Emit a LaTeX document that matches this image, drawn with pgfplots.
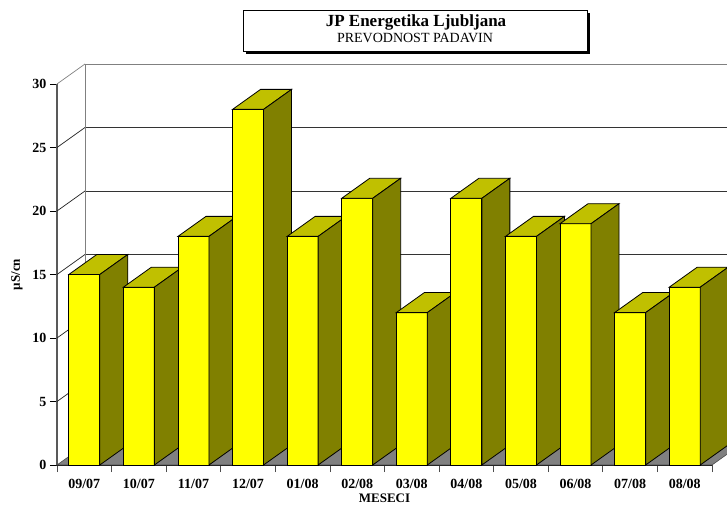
\documentclass[border=0pt]{standalone}
\usepackage{fontspec}
\setmainfont{Liberation Serif}
\usepackage{pgfplots}
\pgfplotsset{compat=1.18}

\definecolor{barfront}{HTML}{FFFF00}
\definecolor{bartop}{HTML}{C0C000}
\definecolor{barside}{HTML}{808000}
\definecolor{floorgray}{HTML}{808080}

% empty mark, the prism is drawn by the scatter code
\pgfdeclareplotmark{emptymark}{}

\begin{document}
\begin{tikzpicture}
\useasboundingbox (0,0) rectangle (727pt,506pt);
\clip (0,0) rectangle (727pt,506pt);

% title box with shadow
\fill[black] (246pt,452pt) rectangle (590pt,493pt);
\filldraw[fill=white, draw=black, line width=0.8pt] (243pt,455pt) rectangle (587pt,496pt);
\node[font=\bfseries\fontsize{17}{17}\selectfont] at (416pt,483.5pt) {JP Energetika Ljubljana};
\node[font=\fontsize{14}{14}\selectfont] at (415pt,468pt) {PREVODNOST PADAVIN};

\begin{axis}[
    at={(57pt,41pt)}, anchor=south west,
    scale only axis,
    width=655pt, height=381pt,
    xmin=-0.5, xmax=11.5,
    ymin=0, ymax=30,
    clip=false,
    axis x line*=bottom,
    axis y line*=left,
    x axis line style={black, line width=1.5pt, -},
    y axis line style={black!65, line width=2pt, -},
    xtick={0,...,11},
    xticklabels={09/07,10/07,11/07,12/07,01/08,02/08,03/08,04/08,05/08,06/08,07/08,08/08},
    minor xtick={-0.5,0.5,...,11.5},
    major x tick style={draw=none},
    minor x tick style={black!70, line width=0.8pt},
    minor tick length=7pt,
    ytick={0,5,...,30},
    y tick style={black, line width=0.8pt},
    major tick length=7pt,
    tick align=outside,
    /pgf/number format/assume math mode=true,
    ticklabel style={font=\bfseries\fontsize{14}{14}\selectfont},
    xticklabel style={yshift=-4pt},
    xlabel={MESECI},
    ylabel={µS/cn},
    xlabel style={at={(axis description cs:0.5,0)}, anchor=center, yshift=-33pt,
        font=\bfseries\fontsize{13}{13}\selectfont},
    ylabel style={at={(axis description cs:-0.061,0.5)}, anchor=center,
        font=\bfseries\fontsize{13}{13}\selectfont},
]

% floor
\filldraw[fill=floorgray, draw=black!70, line width=0.6pt]
    (axis cs:-0.5,0) -- ([shift={(28pt,20pt)}]axis cs:-0.5,0)
    -- ([shift={(28pt,20pt)}]axis cs:11.5,0) -- (axis cs:11.5,0) -- cycle;

% back wall grid and left wall lines
\pgfplotsinvokeforeach{5,10,15,20,25}{
    \draw[black!80, line width=0.7pt] ([shift={(28pt,20pt)}]axis cs:-0.5,#1) -- ([shift={(28pt,20pt)}]axis cs:11.5,#1);
    \draw[black!85, line width=0.7pt] (axis cs:-0.5,#1) -- ++(28pt,20pt);
}
\draw[black!50, line width=0.7pt] ([shift={(28pt,20pt)}]axis cs:-0.5,30) -- ([shift={(28pt,20pt)}]axis cs:11.5,30);
\draw[black!50, line width=0.7pt] (axis cs:-0.5,30) -- ++(28pt,20pt);
\draw[black!50, line width=0.7pt] ([shift={(28pt,20pt)}]axis cs:-0.5,0) -- ([shift={(28pt,20pt)}]axis cs:-0.5,30);

% bars as prisms
\addplot[
    scatter, only marks, mark=emptymark,
    point meta=y,
    visualization depends on={rawy \as \barval},
    scatter/@pre marker code/.code={%
        \pgfmathsetlengthmacro\bh{\barval*12.7pt}%
        \filldraw[fill=barfront, draw=black, line width=0.8pt]
            (-15.5pt,0pt) rectangle (15.5pt,-\bh);
        \filldraw[fill=bartop, draw=black, line width=0.8pt]
            (-15.5pt,0pt) -- (12.5pt,20pt) -- (43.5pt,20pt) -- (15.5pt,0pt) -- cycle;
        \filldraw[fill=barside, draw=black, line width=0.8pt]
            (15.5pt,0pt) -- (43.5pt,20pt) -- ++(0pt,-\bh) -- (15.5pt,-\bh) -- cycle;
    },
    scatter/@post marker code/.code={},
] coordinates {
    (0,15) (1,14) (2,18) (3,28) (4,18) (5,21)
    (6,12) (7,21) (8,18) (9,19) (10,12) (11,14)
};
\end{axis}
\end{tikzpicture}
\end{document}
